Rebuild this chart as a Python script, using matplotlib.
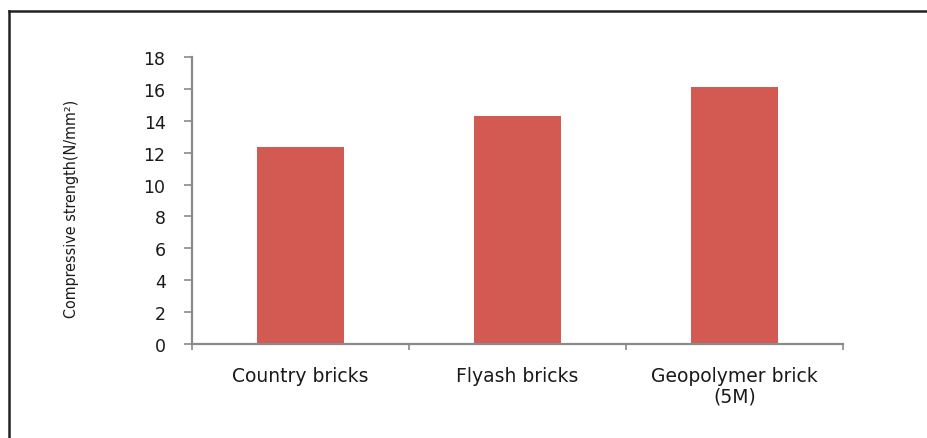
import numpy as np
import matplotlib
matplotlib.use('Agg')
import matplotlib.pyplot as plt
from matplotlib.lines import Line2D

categories = ['Country bricks', 'Flyash bricks', 'Geopolymer brick\n(5M)']
strength = [12.35, 14.3, 16.1]
yticks = [0, 2, 4, 6, 8, 10, 12, 14, 16, 18]

bar_color = '#D25A53'
axis_color = '#8A8A8A'

plt.rcParams['font.family'] = ['DejaVu Sans']

fig = plt.figure(figsize=(9.27, 4.39), dpi=100)
ax = fig.add_axes([0.2071, 0.2141, 0.7023, 0.6538])

x = np.arange(len(categories))
ax.bar(x, strength, width=0.4, color=bar_color, zorder=2)

ax.set_xlim(-0.5, 2.5)
ax.set_ylim(0, 18)
ax.set_yticks(yticks)
ax.set_yticklabels([str(v) for v in yticks], fontsize=12.5, color='#1a1a1a')
ax.set_xticks(x)
ax.set_xticklabels(categories, fontsize=13.5, color='#1a1a1a', linespacing=1.1)
ax.set_xticks(np.arange(-0.5, 3.0, 1.0), minor=True)

for side in ['top', 'right']:
    ax.spines[side].set_visible(False)
for side in ['left', 'bottom']:
    ax.spines[side].set_color(axis_color)
    ax.spines[side].set_linewidth(1.6)

ax.tick_params(axis='y', direction='out', length=6, width=1.2, color=axis_color, pad=13)
ax.tick_params(axis='x', which='major', length=0, pad=16)
ax.tick_params(axis='x', which='minor', direction='out', length=4, width=1.2, color=axis_color)

fig.text(0.0766, 0.524, 'Compressive strength(N/mm²)', rotation=90, ha='center', va='center',
         fontsize=11.5, fontstretch='condensed', color='#1a1a1a')

# frame lines at left and top edge of the picture
fig.add_artist(Line2D([0.0098, 0.0098], [0, 0.972], transform=fig.transFigure, color='#222222', lw=1.8))
fig.add_artist(Line2D([0.0098, 1.0], [0.972, 0.972], transform=fig.transFigure, color='#222222', lw=1.8))

fig.savefig('out.png', dpi=100)
